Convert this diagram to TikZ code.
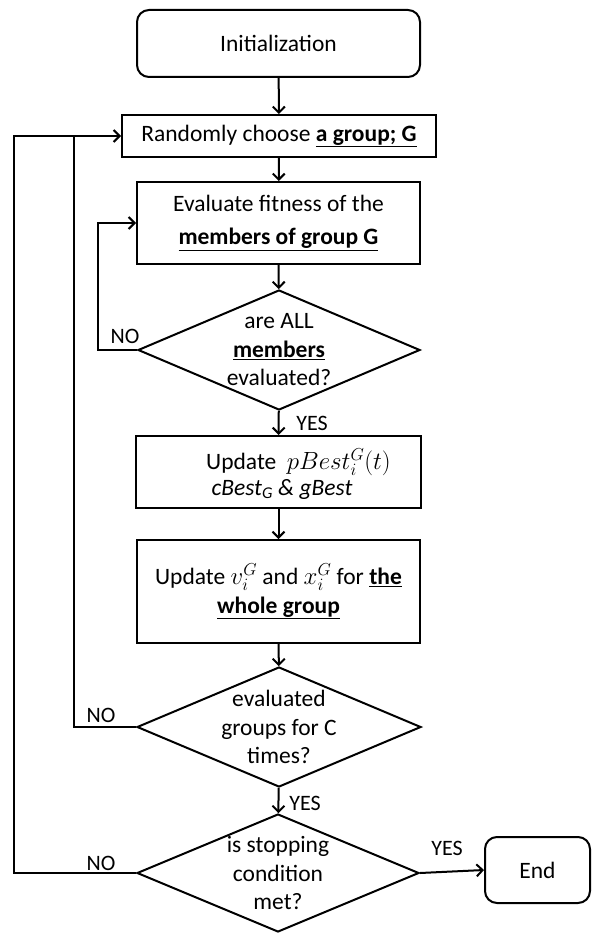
\documentclass[tikz,border=0pt]{standalone}
\usepackage{fontspec}
\setmainfont{Carlito}
\usetikzlibrary{arrows.meta,shapes.geometric}
\begin{document}
\begin{tikzpicture}[x=1pt,y=-1pt,
  every node/.style={font=\fontsize{23.5}{28.5}\selectfont},
  line/.style={line width=2pt},
  arr/.style={line width=2pt,-{Straight Barb[length=6pt,width=12pt,line width=2pt]}},
  box/.style={draw,line width=2pt,align=center,inner sep=0pt},
  rbox/.style={box,rounded corners=12pt},
  dia/.style={draw,line width=2pt,diamond,inner sep=0pt,minimum width=#1,minimum height=120pt},
  dtext/.style={align=center,inner sep=0pt},
  lbl/.style={inner sep=0pt,font=\fontsize{22}{26}\selectfont}
]
\useasboundingbox (0,0) rectangle (597,933);
\node[rbox,minimum width=283pt,minimum height=67pt] (init) at (278.5,43.5) {Initialization};
\node[box,minimum width=314pt,minimum height=42pt] (rand) at (279,136) {Randomly choose \textbf{\underline{a group; G}}};
\node[box,minimum width=283pt,minimum height=82pt] (eval) at (278.5,223) {Evaluate fitness of the\\[4pt]\textbf{\underline{members of group G}}};
\node[dia=282pt] (d1) at (279,350) {};
\node[dtext] at (d1) {are ALL\\\textbf{\underline{members}}\\evaluated?};
\node[box,minimum width=285pt,minimum height=72pt] (up1) at (278.5,472) {};
\node[inner sep=0pt,align=left,anchor=west] at (206,474) {Update\ \ $pBest_i^G(t)$\\[-3pt]\ \textit{cBest\textsubscript{G} \& gBest}};
\node[box,minimum width=283pt,minimum height=103pt] (up2) at (278.5,591.5) {Update $v_i^G$ and $x_i^G$ for \textbf{\underline{the}}\\\textbf{\underline{whole group}}};
\node[dia=284pt] (d2) at (279,727) {};
\node[dtext] at (d2) {evaluated\\groups for C\\times?};
\node[dia=282pt,minimum height=118pt] (d3) at (278,873) {};
\node[dtext] at (d3) {is stopping\\condition\\met?};
\node[rbox,minimum width=105pt,minimum height=66pt] (end) at (537.5,870) {End};

\draw[arr] (init) -- (rand);
\draw[arr] (rand) -- (eval);
\draw[arr] (eval) -- (d1);
\draw[arr] (d1) -- (up1);
\draw[arr] (up1) -- (up2);
\draw[arr] (up2) -- (d2);
\draw[arr] (d2) -- (d3);
\draw[arr] (d3.east) -- (end.west);

\draw[arr] (d1.west) -- (98,350) |- (eval.west);
\draw[arr] (d2.west) -- (74,727) |- (rand.west);
\draw[line] (d3.west) -- (14,873) |- (74,136);

\node[lbl] at (125,336) {NO};
\node[lbl] at (312,423) {YES};
\node[lbl] at (101,715) {NO};
\node[lbl] at (305,803) {YES};
\node[lbl] at (101,863) {NO};
\node[lbl] at (447,848) {YES};
\end{tikzpicture}
\end{document}
